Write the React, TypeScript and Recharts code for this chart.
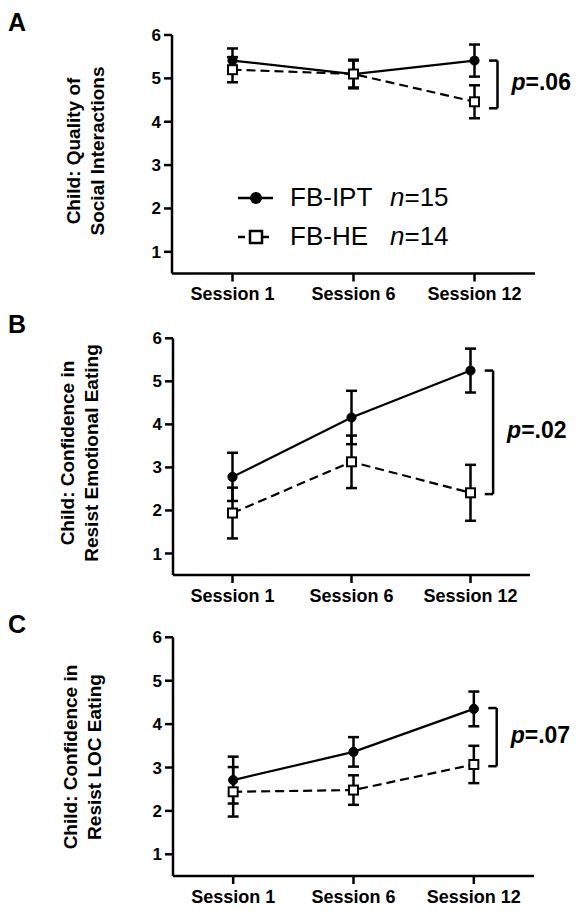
import React from 'react';
import { ComposedChart, Line, XAxis, YAxis, ErrorBar, ReferenceLine, Legend } from 'recharts';

const FONT = '"Liberation Sans", Arial, Helvetica, sans-serif';

const sessionLabels = ['Session 1', 'Session 6', 'Session 12'];
const sessionPos = [1, 2, 3];
const yTicks = [1, 2, 3, 4, 5, 6];

const socialIpt = [5.41, 5.1, 5.41];
const socialIptErr = [0.28, 0.33, 0.37];
const socialHe = [5.2, 5.1, 4.46];
const socialHeErr = [0.29, 0.31, 0.38];

const emotionalIpt = [2.78, 4.16, 5.25];
const emotionalIptErr = [0.56, 0.62, 0.51];
const emotionalHe = [1.94, 3.13, 2.41];
const emotionalHeErr = [0.59, 0.61, 0.65];

const locIpt = [2.71, 3.36, 4.35];
const locIptErr = [0.54, 0.34, 0.4];
const locHe = [2.44, 2.48, 3.07];
const locHeErr = [0.57, 0.34, 0.43];

const pValues = ['.06', '.02', '.07'];
const bracketTop = [5.41, 5.25, 4.37];
const bracketBottom = [4.31, 2.38, 3.03];
const panelLetters = ['A', 'B', 'C'];
const yLabels = [
  ['Child: Quality of', 'Social Interactions'],
  ['Child: Confidence in', 'Resist Emotional Eating'],
  ['Child: Confidence in', 'Resist LOC Eating'],
];
const legendNames = ['FB-IPT', 'FB-HE'];
const legendN = [15, 14];

const iptSeries = [socialIpt, emotionalIpt, locIpt];
const iptErrSeries = [socialIptErr, emotionalIptErr, locIptErr];
const heSeries = [socialHe, emotionalHe, locHe];
const heErrSeries = [socialHeErr, emotionalHeErr, locHeErr];

// layout (positions / sizes only)
const CH = 330;
const layouts = [
  { top: 0, plotTop: 35, plotBottom: 273.5, left: 172, right: 45, labelX: [73, 97], labelY: 151, letterTop: 10 },
  { top: 303, plotTop: 35.3, plotBottom: 272, left: 173, right: 50, labelX: [67, 91], labelY: 150, letterTop: 9 },
  { top: 606, plotTop: 31.3, plotBottom: 270, left: 173, right: 46, labelX: [70, 94], labelY: 151, letterTop: 6 },
];

const BR_X = 3.19;
const BR_STUB = 3.12;

const renderCircle = (props: any) => {
  const { cx, cy, index } = props;
  if (cx == null || cy == null) return <g key={`c-${index}`} />;
  return <circle key={`c-${index}`} cx={cx} cy={cy} r={4.6} fill="#000" stroke="#000" strokeWidth={1} />;
};

const renderSquare = (props: any) => {
  const { cx, cy, index } = props;
  if (cx == null || cy == null) return <g key={`s-${index}`} />;
  return <rect key={`s-${index}`} x={cx - 4.5} y={cy - 4.5} width={9} height={9} fill="#fff" stroke="#000" strokeWidth={2} />;
};

const LegendContent = () => (
  <div style={{ fontFamily: FONT, fontSize: 26, color: '#000' }}>
    {legendNames.map((name, i) => (
      <div key={name} style={{ display: 'flex', alignItems: 'center', height: 39, lineHeight: '39px' }}>
        <svg width={54} height={20} style={{ display: 'block' }}>
          <line x1={2} y1={10} x2={37} y2={10} stroke="#000" strokeWidth={2.5} strokeDasharray={i === 1 ? '7 5' : undefined} />
          {i === 0 ? (
            <circle cx={20} cy={10} r={6} fill="#000" />
          ) : (
            <rect x={14} y={4} width={12} height={12} fill="#fff" stroke="#000" strokeWidth={2.5} />
          )}
        </svg>
        <span style={{ display: 'inline-block', width: 100 }}>{name}</span>
        <span>
          <i>n</i>={legendN[i]}
        </span>
      </div>
    ))}
  </div>
);

function Panel({ idx }: { idx: number }) {
  const L = layouts[idx];
  const ipt = iptSeries[idx];
  const iptErr = iptErrSeries[idx];
  const he = heSeries[idx];
  const heErr = heErrSeries[idx];
  const data = sessionPos.map((x, i) => ({ x, ipt: ipt[i], iptErr: iptErr[i], he: he[i], heErr: heErr[i] }));

  const pLabel = (props: any) => {
    const vb = props.viewBox || {};
    const x = (vb.x ?? 0) + 14;
    const y = (vb.y ?? 0) + (vb.height ?? 0) / 2 - 2;
    return (
      <text x={x} y={y} dominantBaseline="central" fontFamily={FONT} fontSize={23} fontWeight="bold" fill="#000">
        <tspan fontStyle="italic">p</tspan>
        <tspan>={pValues[idx]}</tspan>
      </text>
    );
  };

  const yLabel = () => (
    <g>
      {yLabels[idx].map((t, i) => (
        <text
          key={t}
          x={L.labelX[i]}
          y={L.labelY}
          transform={`rotate(-90, ${L.labelX[i]}, ${L.labelY})`}
          textAnchor="middle"
          dominantBaseline="central"
          fontFamily={FONT}
          fontSize={19}
          fontWeight="bold"
          fill="#000"
        >
          {t}
        </text>
      ))}
    </g>
  );

  const axisStyle = { stroke: '#000', strokeWidth: 2.5 };
  const xTickStyle = { fill: '#000', fontSize: 18, fontWeight: 'bold', fontFamily: FONT };
  const yTickStyle = { fill: '#000', fontSize: 17, fontWeight: 'bold', fontFamily: FONT };
  const yAxisW = 60;
  const xAxisH = CH - L.plotBottom;

  return (
    <div style={{ position: 'absolute', left: 0, top: L.top, width: 580, height: CH }}>
      <div
        style={{
          position: 'absolute',
          left: 8,
          top: L.letterTop,
          fontFamily: FONT,
          fontWeight: 'bold',
          fontSize: 25,
          lineHeight: '25px',
          color: '#000',
          zIndex: 2,
        }}
      >
        {panelLetters[idx]}
      </div>
      <ComposedChart
        width={580}
        height={CH}
        data={data}
        margin={{ top: L.plotTop, right: L.right, bottom: 0, left: L.left - yAxisW }}
      >
        <XAxis
          dataKey="x"
          type="number"
          domain={[0.5, 3.5]}
          ticks={sessionPos}
          tickFormatter={(v: number) => sessionLabels[v - 1]}
          allowDataOverflow
          interval={0}
          height={xAxisH}
          axisLine={axisStyle}
          tickLine={axisStyle}
          tickSize={8}
          tickMargin={6}
          tick={xTickStyle}
        />
        <YAxis
          type="number"
          domain={[0.5, 6]}
          ticks={yTicks}
          allowDataOverflow
          interval={0}
          width={yAxisW}
          axisLine={axisStyle}
          tickLine={axisStyle}
          tickSize={8}
          tickMargin={3}
          tick={yTickStyle}
          label={{ content: yLabel }}
        />
        <Line
          dataKey="ipt"
          stroke="#000"
          strokeWidth={2.2}
          dot={renderCircle}
          activeDot={false}
          isAnimationActive={false}
        >
          <ErrorBar dataKey="iptErr" direction="y" width={5.5} stroke="#000" strokeWidth={2.5} isAnimationActive={false} />
        </Line>
        <Line
          dataKey="he"
          stroke="#000"
          strokeWidth={2.2}
          strokeDasharray="9 5"
          dot={renderSquare}
          activeDot={false}
          isAnimationActive={false}
        >
          <ErrorBar dataKey="heErr" direction="y" width={5.5} stroke="#000" strokeWidth={2.5} isAnimationActive={false} />
        </Line>
        <ReferenceLine
          segment={[{ x: BR_X, y: bracketTop[idx] }, { x: BR_X, y: bracketBottom[idx] }]}
          stroke="#000"
          strokeWidth={2.5}
          ifOverflow="visible"
          label={{ content: pLabel }}
        />
        <ReferenceLine
          segment={[{ x: BR_STUB, y: bracketTop[idx] }, { x: BR_X, y: bracketTop[idx] }]}
          stroke="#000"
          strokeWidth={2.5}
          ifOverflow="visible"
        />
        <ReferenceLine
          segment={[{ x: BR_STUB, y: bracketBottom[idx] }, { x: BR_X, y: bracketBottom[idx] }]}
          stroke="#000"
          strokeWidth={2.5}
          ifOverflow="visible"
        />
        {idx === 0 && (
          <Legend
            content={LegendContent}
            layout="vertical"
            align="center"
            verticalAlign="middle"
            wrapperStyle={{ position: 'absolute', left: 236, top: 178, width: 280 }}
          />
        )}
      </ComposedChart>
    </div>
  );
}

export default function App() {
  return (
    <div style={{ position: 'relative', width: 580, height: 911, background: '#fff', overflow: 'hidden' }}>
      <style>{'body{margin:0;background:#fff;}'}</style>
      <Panel idx={0} />
      <Panel idx={1} />
      <Panel idx={2} />
    </div>
  );
}
